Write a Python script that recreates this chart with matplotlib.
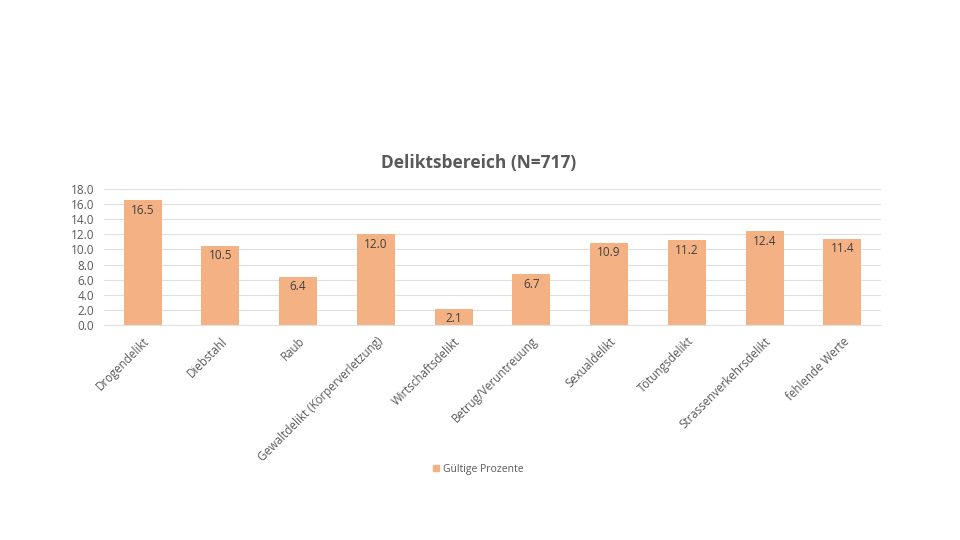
import matplotlib
matplotlib.use("Agg")
import matplotlib.pyplot as plt
from matplotlib.patches import Patch

categories = ["Drogendelikt", "Diebstahl", "Raub", "Gewaltdelikt (Körperverletzung)",
              "Wirtschaftsdelikt", "Betrug/Veruntreuung", "Sexualdelikt",
              "Tötungsdelikt", "Strassenverkehrsdelikt", "fehlende Werte"]
values = [16.5, 10.5, 6.4, 12.0, 2.1, 6.7, 10.9, 11.2, 12.4, 11.4]
yticks = [0, 2, 4, 6, 8, 10, 12, 14, 16, 18]

bar_color = "#F4B183"
text_color = "#595959"
plt.rcParams['font.family'] = ['Open Sans', 'DejaVu Sans']

fig = plt.figure(figsize=(9.6, 5.4), dpi=100)
ax = fig.add_axes([0.108, 0.398, 0.81, 0.252])

x = list(range(len(categories)))
ax.bar(x, values, width=0.49, color=bar_color, zorder=2)

# data labels just below the top of each bar
for xi, v in zip(x, values):
    ax.annotate(f"{v:.1f}", (xi, v), xytext=(0, -7), textcoords="offset points",
                ha="center", va="center", fontsize=8.5, color="#404040", zorder=3)

ax.set_xlim(-0.5, len(categories) - 0.5)
ax.set_ylim(0, 18)
ax.set_yticks(yticks)
ax.set_yticklabels([f"{t:.1f}" for t in yticks], fontsize=8.5, color=text_color)
ax.yaxis.grid(True, color="#E0E0E0", linewidth=0.8, zorder=0)
ax.set_axisbelow(True)
for s in ["top", "right", "left"]:
    ax.spines[s].set_visible(False)
ax.spines["bottom"].set_color("#E0E0E0")
ax.tick_params(axis="both", length=0)
ax.tick_params(axis="y", pad=7)

ax.set_xticks(x)
ax.set_xticklabels(categories, rotation=45, ha="right", rotation_mode="anchor",
                   fontsize=8.3, color=text_color)
ax.tick_params(axis="x", pad=7)

fig.text(0.499, 0.698, "Deliktsbereich (N=717)", ha="center", va="center",
         fontsize=12.5, fontweight="bold", color=text_color)

handles = [Patch(color=bar_color, label="Gültige Prozente")]
fig.legend(handles=handles, loc="center", bbox_to_anchor=(0.498, 0.131), frameon=False,
           fontsize=7.5, handlelength=0.6, handleheight=0.6, labelcolor=text_color,
           handletextpad=0.4)

fig.savefig("out.png", dpi=100, facecolor="white")
